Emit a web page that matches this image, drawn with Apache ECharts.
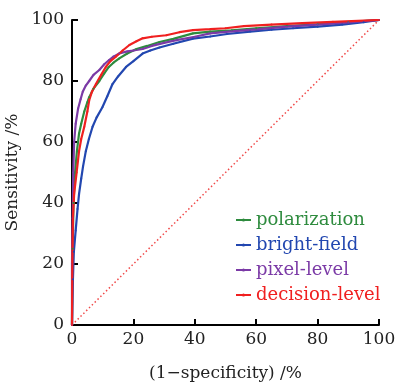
<!DOCTYPE html>
<html><head><meta charset="utf-8">
<script src="https://cdn.jsdelivr.net/npm/echarts@6/dist/echarts.min.js"></script>
<style>html,body{margin:0;padding:0;background:#fff}#c{width:395px;height:383px}</style>
</head><body><div id="c"></div>
<script>
const seriesNames = ['polarization','bright-field','pixel-level','decision-level'];
const colors = ['#2e8b3e','#2247b0','#7b3aa6','#f02020'];
const polarization = [[0,0],[0.2,25],[0.5,40],[1,50],[1.6,57],[2.3,62.8],[3,66],[4,70],[5,73],[5.6,74.7],[7,77.5],[8.9,80],[10.5,82.5],[12,84.6],[13.5,86],[15.4,87.4],[18,89],[21,90.5],[24.5,91.5],[28.5,92.8],[33,93.8],[39.4,95.6],[45,96.2],[52,96.6],[60,97.3],[70,98],[80,98.6],[90,99.3],[100,100]];
const brightField = [[0,0],[0.3,15],[0.6,24],[1.2,31],[1.8,38],[2.3,43],[3,48],[3.6,52],[4.5,57],[5.5,61],[6.7,65],[8,68],[9.9,71.4],[11.5,75],[13.2,79],[15,81.5],[17.6,84.6],[20,86.5],[23,89],[25.5,90],[28.5,91],[33,92.2],[39.4,93.9],[45,94.6],[50.5,95.4],[58,96.2],[65,96.8],[72,97.3],[80,97.8],[88,98.5],[95,99.3],[100,100]];
const pixelLevel = [[0,0],[0,20],[0.2,35],[0.4,50],[0.7,60],[1.2,66],[2,71],[2.8,74],[3.5,76.5],[4.5,78.5],[5.6,80],[7,82],[8.9,83.6],[10.5,85.5],[12,86.8],[13.5,88],[15.4,89],[18,89.7],[20,90],[23,90.5],[26,91.5],[30,92.5],[34,93.4],[40,94.5],[45,95.6],[52,96.3],[61,97],[70,97.8],[80,98.5],[90,99.2],[100,100]];
const decisionLevel = [[0,0],[0.1,20],[0.3,35],[0.7,43],[1.5,50],[2.3,57],[3,61],[4,65],[5,70],[5.6,73.7],[6.5,76.5],[7.8,79],[9.5,82],[11,84.6],[12.5,86.5],[14.3,88],[16.5,90],[18.7,91.8],[21,93],[23,94],[26,94.5],[30.7,95],[35,96],[39.4,96.7],[45,97],[50,97.3],[56,98],[65,98.5],[75,99],[85,99.4],[100,100]];
const diagonal = [[0,0],[100,100]];
const allData = [polarization, brightField, pixelLevel, decisionLevel];
const font = 'DejaVu Serif';
const chart = echarts.init(document.getElementById('c'));
chart.setOption({
  animation:false,
  backgroundColor:'#fff',
  grid:{left:72,right:16,top:20,bottom:58,containLabel:false,outerBoundsMode:'none'},
  legend:{
    left:230, top:206, orient:'vertical', itemWidth:15, itemHeight:4, itemGap:7,
    data: seriesNames.map((n,i)=>({name:n, textStyle:{color:colors[i]}})),
    textStyle:{fontFamily:font,fontSize:18}
  },
  xAxis:{type:'value',min:0,max:100,interval:20,
    name:'(1\u2212specificity) /%',nameLocation:'middle',nameGap:40,
    nameTextStyle:{fontFamily:font,fontSize:17,color:'#222'},
    axisLine:{lineStyle:{color:'#000',width:2}},
    axisTick:{inside:true,length:6,lineStyle:{color:'#000',width:2}},
    axisLabel:{fontFamily:font,fontSize:17,color:'#222',margin:6},
    splitLine:{show:false}},
  yAxis:{type:'value',min:0,max:100,interval:20,
    name:'Sensitivity /%',nameLocation:'middle',nameGap:43,
    nameTextStyle:{fontFamily:font,fontSize:17,color:'#222'},
    axisLine:{show:true,lineStyle:{color:'#000',width:2}},
    axisTick:{show:true,inside:true,length:6,lineStyle:{color:'#000',width:2}},
    axisLabel:{fontFamily:font,fontSize:17,color:'#222',margin:8},
    splitLine:{show:false}},
  series: [
    {type:'line',name:'diag',data:diagonal,symbol:'none',silent:true,z:1,
     lineStyle:{color:'#f04848',width:1.5,type:[1.5,2.5]}},
    ...seriesNames.map((n,i)=>({
      type:'line',name:n,data:allData[i],symbol:'circle',symbolSize:2,showSymbol:true,
      itemStyle:{color:colors[i]},lineStyle:{color:colors[i],width:2.2}
    }))
  ]
});
</script></body></html>
